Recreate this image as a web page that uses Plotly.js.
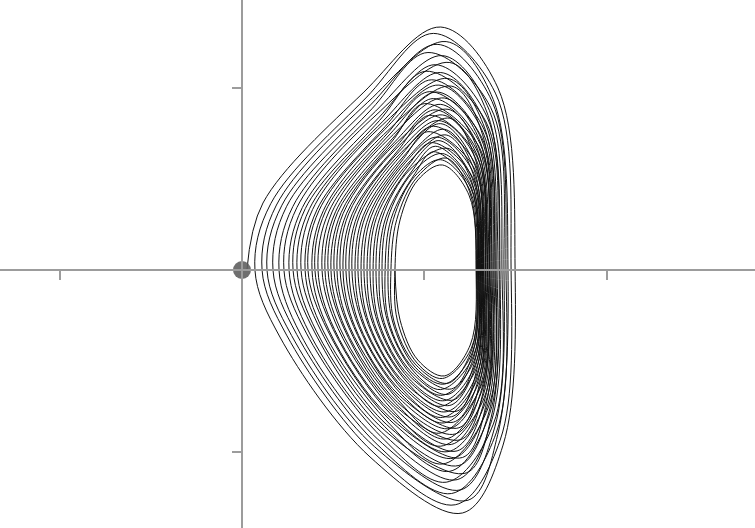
<!DOCTYPE html>
<html>
<head>
<meta charset="utf-8">
<script src="https://cdn.plot.ly/plotly-3.0.1.min.js"></script>
<style>html,body{margin:0;padding:0;background:#fff;}#chart{width:755px;height:528px;}</style>
</head>
<body>
<div id="chart"></div>
<script>
// Phase-plane trajectory: one row per revolution (41 revolutions),
// key points of each revolution: left crossing, upper-left (2), top, upper-right,
// right crossing, lower-right, bottom, lower-left (2).
const leftX = [.027,.071,.110,.137,.170,.203,.230,.258,.280,.302,.324,.346,.362,.384,.400,.417,.439,.455,.472,.488,.505,.521,.538,.554,.570,.587,.603,.620,.636,.653,.669,.686,.702,.719,.735,.752,.768,.785,.801,.817,.839];
const ul1X = [.115,.158,.189,.219,.245,.279,.301,.331,.347,.371,.387,.412,.423,.447,.458,.478,.494,.513,.524,.544,.555,.574,.585,.605,.616,.635,.646,.666,.677,.696,.708,.727,.738,.757,.769,.788,.799,.818,.830,.849,.867];
const ul1Y = [.368,.365,.357,.356,.350,.349,.343,.343,.337,.338,.332,.333,.328,.328,.323,.324,.319,.320,.315,.316,.311,.312,.308,.309,.304,.305,.300,.301,.296,.297,.292,.294,.289,.290,.285,.286,.281,.282,.277,.278,.275];
const ul2X = [.664,.684,.690,.709,.713,.733,.735,.753,.754,.770,.770,.786,.784,.800,.798,.812,.813,.827,.825,.839,.837,.851,.849,.863,.861,.875,.873,.888,.886,.900,.898,.912,.910,.924,.922,.937,.935,.949,.947,.961,.965];
const ul2Y = [.973,.950,.922,.911,.886,.873,.851,.840,.821,.814,.796,.789,.773,.766,.751,.747,.728,.724,.709,.705,.689,.685,.670,.666,.650,.647,.631,.627,.612,.608,.592,.588,.573,.569,.553,.550,.534,.530,.514,.511,.495];
const topX = [1.09,1.05,1.12,1.07,1.02,1.10,1.14,1.06,1.01,1.09,1.13,1.04,1.08,1.15,1.03,1.07,1.11,1.05,1.00,1.09,1.13,1.06,1.10,1.03,1.08,1.14,1.05,1.09,1.02,1.11,1.07,1.12,1.04,1.08,1.13,1.06,1.10,1.05,1.09,1.12,1.10];
const topY = [1.335,1.300,1.255,1.240,1.195,1.178,1.140,1.128,1.092,1.085,1.052,1.045,1.016,1.010,.980,.978,.945,.942,.914,.910,.883,.880,.852,.850,.821,.834,.790,.804,.760,.773,.730,.742,.700,.711,.668,.680,.640,.650,.606,.615,.577];
const urX = [1.404,1.390,1.378,1.372,1.364,1.357,1.350,1.346,1.339,1.336,1.331,1.327,1.323,1.319,1.316,1.312,1.309,1.306,1.302,1.300,1.297,1.294,1.291,1.289,1.286,1.283,1.281,1.278,1.276,1.273,1.271,1.268,1.266,1.263,1.261,1.258,1.256,1.253,1.251,1.248,1.245];
const urY = [1.000,.972,.937,.925,.893,.877,.849,.837,.813,.805,.781,.774,.754,.746,.726,.722,.698,.694,.674,.670,.650,.646,.627,.622,.603,.599,.579,.575,.555,.551,.531,.527,.507,.504,.483,.480,.460,.456,.436,.432,.412];
const rightX = [1.498,1.476,1.459,1.448,1.437,1.426,1.415,1.410,1.399,1.393,1.388,1.382,1.377,1.371,1.366,1.360,1.358,1.355,1.349,1.347,1.344,1.338,1.336,1.333,1.327,1.325,1.322,1.319,1.317,1.314,1.311,1.308,1.306,1.303,1.300,1.297,1.295,1.292,1.289,1.286,1.284];
const lrX = [1.432,1.416,1.403,1.396,1.387,1.379,1.371,1.367,1.359,1.355,1.350,1.345,1.341,1.337,1.333,1.329,1.326,1.322,1.318,1.315,1.312,1.309,1.306,1.303,1.300,1.297,1.294,1.291,1.288,1.285,1.282,1.280,1.277,1.274,1.272,1.269,1.266,1.264,1.261,1.258,1.252];
const lrY = [-.962,-.935,-.903,-.891,-.862,-.846,-.822,-.809,-.788,-.779,-.758,-.749,-.732,-.724,-.707,-.701,-.680,-.675,-.658,-.653,-.636,-.631,-.614,-.608,-.591,-.586,-.569,-.564,-.547,-.541,-.524,-.519,-.502,-.497,-.479,-.474,-.457,-.452,-.435,-.430,-.412];
const botX = [1.21,1.17,1.24,1.15,1.20,1.12,1.18,1.23,1.14,1.19,1.10,1.16,1.21,1.13,1.18,1.09,1.15,1.20,1.12,1.17,1.08,1.14,1.19,1.11,1.16,1.10,1.15,1.12,1.18,1.09,1.14,1.11,1.16,1.10,1.13,1.09,1.15,1.11,1.13,1.10,1.11];
const botY = [-1.335,-1.290,-1.265,-1.228,-1.208,-1.166,-1.152,-1.115,-1.106,-1.074,-1.066,-1.034,-1.030,-.998,-.994,-.968,-.958,-.932,-.928,-.901,-.897,-.871,-.867,-.840,-.836,-.810,-.806,-.779,-.775,-.749,-.744,-.718,-.714,-.688,-.683,-.657,-.653,-.627,-.622,-.596,-.582];
const ll2X = [.702,.719,.726,.741,.745,.762,.765,.780,.781,.794,.795,.808,.807,.820,.820,.831,.832,.844,.843,.854,.854,.865,.864,.876,.875,.886,.885,.897,.896,.908,.907,.918,.918,.929,.928,.940,.939,.950,.950,.961,.965];
const ll2Y = [-1.027,-1.001,-.970,-.958,-.930,-.915,-.891,-.879,-.859,-.850,-.830,-.821,-.805,-.796,-.780,-.775,-.754,-.750,-.733,-.728,-.711,-.707,-.690,-.685,-.668,-.663,-.647,-.642,-.625,-.620,-.603,-.599,-.582,-.577,-.560,-.555,-.539,-.534,-.517,-.512,-.495];
const ll1X = [.208,.247,.272,.300,.321,.353,.370,.398,.410,.434,.446,.469,.477,.500,.507,.527,.539,.558,.565,.585,.592,.612,.619,.639,.646,.665,.672,.692,.699,.718,.726,.745,.753,.772,.780,.799,.806,.825,.833,.852,.867];
const ll1Y = [-.368,-.362,-.360,-.354,-.353,-.347,-.346,-.341,-.340,-.336,-.335,-.331,-.331,-.326,-.326,-.322,-.322,-.318,-.318,-.314,-.314,-.310,-.311,-.307,-.307,-.303,-.303,-.299,-.299,-.295,-.295,-.292,-.292,-.288,-.288,-.284,-.284,-.280,-.280,-.276,-.275];
const originX = [0];
const originY = [0];

const pathX = [], pathY = [];
for (let k = 0; k < leftX.length; k++) {
  pathX.push(leftX[k], ul1X[k], ul2X[k], topX[k], urX[k], rightX[k], lrX[k], botX[k], ll2X[k], ll1X[k]);
  pathY.push(0, ul1Y[k], ul2Y[k], topY[k], urY[k], 0, lrY[k], botY[k], ll2Y[k], ll1Y[k]);
}
pathX.push(leftX[leftX.length - 1]);
pathY.push(0);

const axisColor = '#9c9c9c';
const traces = [
  {
    x: pathX, y: pathY, type: 'scatter', mode: 'lines',
    line: {color: '#111111', width: 1.0, shape: 'spline', smoothing: 1},
    hoverinfo: 'skip'
  },
  {
    x: originX, y: originY, type: 'scatter', mode: 'markers',
    marker: {size: 18, color: 'rgba(95,95,95,0.9)'},
    hoverinfo: 'skip'
  }
];
const layout = {
  width: 755, height: 528,
  margin: {l: 0, r: 0, t: 0, b: 0, pad: 0},
  paper_bgcolor: '#ffffff', plot_bgcolor: '#ffffff',
  showlegend: false,
  xaxis: {
    range: [-242 / 182.3, 513 / 182.3], anchor: 'free', position: 258 / 528,
    showline: true, linecolor: axisColor, linewidth: 2,
    ticks: 'outside', ticklen: 9, tickwidth: 2, tickcolor: axisColor,
    tick0: 0, dtick: 1, showticklabels: false, showgrid: false, zeroline: false
  },
  yaxis: {
    range: [-258 / 182, 270 / 182], anchor: 'free', position: 242 / 755,
    showline: true, linecolor: axisColor, linewidth: 2,
    ticks: 'outside', ticklen: 9, tickwidth: 2, tickcolor: axisColor,
    tick0: 0, dtick: 1, showticklabels: false, showgrid: false, zeroline: false
  }
};
Plotly.newPlot('chart', traces, layout, {displayModeBar: false, staticPlot: true});
</script>
</body>
</html>
